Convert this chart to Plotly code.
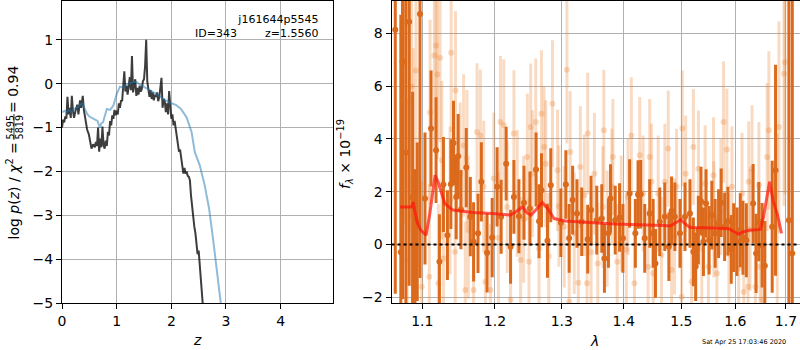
import plotly.graph_objects as go

# ---------------- Left panel: log p(z) ----------------
pz_z = [0.00, 0.02, 0.04, 0.06, 0.08, 0.10, 0.12, 0.14, 0.16, 0.18, 0.20, 0.22, 0.25, 0.28, 0.30,
        0.33, 0.35, 0.38, 0.40, 0.43, 0.46, 0.49, 0.51, 0.54, 0.57, 0.60, 0.62, 0.64, 0.66, 0.68,
        0.70, 0.72, 0.74, 0.76, 0.78, 0.80, 0.82, 0.84, 0.86, 0.88, 0.90, 0.92, 0.94, 0.96, 0.98,
        1.00, 1.02, 1.04, 1.06, 1.08, 1.10, 1.12, 1.14, 1.16, 1.18, 1.20, 1.22, 1.24, 1.26, 1.28,
        1.30, 1.32, 1.34, 1.36, 1.38, 1.40, 1.42, 1.44, 1.46, 1.48, 1.50, 1.52, 1.54, 1.56, 1.58,
        1.60, 1.62, 1.64, 1.66, 1.68, 1.70, 1.72, 1.74, 1.76, 1.78, 1.80, 1.82, 1.84, 1.86, 1.88,
        1.90, 1.92, 1.94, 1.96, 1.98, 2.00, 2.02, 2.04, 2.06, 2.08, 2.10, 2.12, 2.14, 2.16, 2.18,
        2.20, 2.22, 2.24, 2.26, 2.28, 2.30, 2.32, 2.34, 2.36, 2.38, 2.40, 2.42, 2.44, 2.46, 2.48,
        2.50, 2.52, 2.54, 2.56, 2.58]
pz_logp = [-1.00, -0.82, -0.88, -0.75, -0.80, -0.30, -0.70, -0.55, -0.78, -0.28, -0.62, -0.78, -0.60, -0.48, -0.70,
           -0.38, -0.55, -0.28, -0.60, -0.85, -1.05, -1.15, -1.30, -1.48, -1.38, -1.45, -1.33, -1.42, -1.00, -1.55,
           -1.25, -1.45, -0.98, -1.40, -1.48, -1.30, -1.42, -1.10, -1.18, -0.85, -0.95, -0.72, -0.80, -0.60, -0.72,
           -0.62, -0.70, -0.45, -0.55, -0.38, -0.40, -0.10, 0.28, -0.18, -0.05, -0.25, -0.10, 0.15, -0.15, 0.63,
           -0.20, -0.05, 0.10, -0.28, -0.10, -0.25, -0.05, -0.18, -0.12, 0.05, 0.10, 0.40, 1.00, 0.05, -0.10,
           -0.30, -0.15, -0.35, -0.20, -0.38, -0.25, -0.30, -0.20, -0.40, -0.30, 0.00, 0.13, -0.55, -0.35, -0.40,
           -0.65, -0.45, -0.70, -0.17, -0.55, -0.80, -0.70, -0.95, -0.85, -1.00, -1.20, -1.40, -1.55, -1.50, -1.65,
           -1.85, -2.05, -1.92, -2.05, -2.00, -2.10, -2.12, -2.20, -2.55, -2.85, -3.00, -3.25, -3.40, -3.70, -3.88,
           -3.80, -4.10, -4.60, -4.90, -5.10]

chi_z = [0.00, 0.05, 0.08, 0.12, 0.18, 0.22, 0.27, 0.32, 0.37, 0.42, 0.46, 0.50, 0.54, 0.60, 0.65,
         0.69, 0.72, 0.75, 0.79, 0.82, 0.88, 0.94, 1.00, 1.06, 1.12, 1.18, 1.27, 1.36, 1.42, 1.52,
         1.61, 1.73, 1.85, 1.97, 2.09, 2.18, 2.28, 2.37, 2.43, 2.52, 2.61, 2.69, 2.76, 2.82, 2.88, 2.91]
chi_logp = [-0.65, -0.62, -0.66, -0.60, -0.65, -0.58, -0.55, -0.50, -0.45, -0.58, -0.69, -0.75, -0.78, -0.81, -0.85,
            -1.00, -0.90, -0.88, -0.70, -0.58, -0.60, -0.50, -0.24, -0.07, -0.09, -0.02, 0.02, 0.04, -0.02, -0.09,
            -0.14, -0.24, -0.35, -0.43, -0.49, -0.58, -0.77, -1.10, -1.56, -1.86, -2.31, -2.84, -3.50, -4.12, -4.80, -5.05]

# ---------------- Right panel: spectrum ----------------
lam_tick_vals = [1.1, 1.2, 1.3, 1.4, 1.5, 1.6, 1.7]
lam_tick_text = ["1.1", "1.2", "1.3", "1.4", "1.5", "1.6", "1.7"]

# weaker-weight spectrum (faint)
faint_lam = [1.0760, 1.0773, 1.0917, 1.0860, 1.0829, 1.1183, 1.1160, 1.1237, 1.1201, 1.1387,
             1.1446, 1.1103, 1.1605, 1.1745, 1.1792, 1.2079, 1.2127, 1.2275, 1.2524, 1.2600,
             1.2687, 1.2726, 1.2855, 1.3079, 1.3131, 1.3291, 1.3409, 1.3670, 1.3819, 1.4128,
             1.4270, 1.4442, 1.4766, 1.5017, 1.5217, 1.5777, 1.5840, 1.6325, 1.6656, 1.6858,
             1.6961, 1.6981,
             1.0803, 1.0992, 1.1093, 1.1214, 1.1282, 1.1442, 1.1581, 1.1697, 1.1863, 1.1935,
             1.2226, 1.2374, 1.2499, 1.2650, 1.3115, 1.3259, 1.3398, 1.3572, 1.3891, 1.4180,
             1.4414, 1.4502, 1.4825, 1.5005, 1.5186, 1.5494, 1.5651, 1.6065, 1.6163, 1.6246,
             1.6390, 1.6523,
             1.0882, 1.1260, 1.1373, 1.1511, 1.1558, 1.1839, 1.1983, 1.2177, 1.2325, 1.2474,
             1.2549, 1.2752, 1.2933, 1.3037, 1.3195, 1.3355, 1.3517, 1.3654, 1.3802, 1.3958,
             1.4072, 1.4328, 1.4472, 1.4589, 1.4706, 1.4914, 1.5077, 1.5310, 1.5432, 1.5588,
             1.5726, 1.5936, 1.6129, 1.6260, 1.6458, 1.6622,
             1.1623, 1.2050, 1.2419, 1.2798, 1.2954, 1.3463, 1.3725, 1.4043, 1.4647, 1.4878,
             1.5371, 1.5594, 1.5878, 1.6286, 1.6483, 1.6824]
faint_flux = [6.78, 8.45, 6.59, 5.98, 5.45, 7.53, 7.16, 7.07, 6.44, 7.26,
              5.83, 5.01, 3.25, 4.26, 4.13, 4.64, 4.51, 4.20, 4.45, 4.64,
              4.95, 3.69, 5.33, 6.62, 3.50, 2.93, 4.20, 4.32, 3.31, 4.13,
              3.38, 3.31, 3.63, 4.39, 3.69, 4.64, 3.60, 2.87, 4.32, 4.45,
              6.46, 6.90,
              -0.59, -1.60, -1.22, -1.47, -0.53, -0.28, -1.73, -1.73, -1.41, -1.73,
              -2.10, -0.59, -0.66, -0.15, -2.17, -1.45, -1.47, -0.72, -0.66, -1.47,
              -0.85, -1.10, -0.97, -1.98, -1.41, -0.85, -1.10, -0.91, -1.79, -1.60,
              -1.60, -2.10,
              2.43, 3.19, 1.67, 2.68, 3.75, 2.18, 2.50, 1.42, 1.93, 3.31,
              2.68, 3.06, 2.81, 0.67, 0.42, 1.86, 2.68, 1.42, 2.18, 1.17,
              1.80, 1.93, 2.37, 1.93, 2.37, 2.18, 2.68, 2.87, 2.31, 2.62,
              1.80, 2.18, 1.93, 2.37, 2.24, 3.31,
              0.55, 0.25, 0.95, -0.45, 1.45, -0.30, 0.60, -0.20, -0.40, 0.30,
              -0.15, 0.95, -0.35, 0.55, -0.85, 0.70]
faint_err = [6.0, 7.0, 5.0, 5.0, 5.0, 3.5, 3.5, 3.2, 3.2, 3.0,
             3.0, 3.5, 2.6, 2.6, 2.5, 2.5, 2.5, 2.4, 2.4, 2.4,
             2.4, 2.3, 2.4, 2.8, 2.3, 2.3, 2.3, 2.3, 2.2, 2.2,
             2.2, 2.2, 2.2, 2.2, 2.2, 2.3, 2.3, 2.4, 3.0, 4.0,
             5.0, 5.0,
             6.0, 4.0, 3.5, 3.0, 3.0, 2.7, 2.6, 2.6, 2.5, 2.5,
             2.4, 2.4, 2.4, 2.4, 2.3, 2.3, 2.3, 2.3, 2.2, 2.2,
             2.2, 2.2, 2.2, 2.2, 2.2, 2.2, 2.2, 2.3, 2.3, 2.3,
             2.4, 2.5,
             5.0, 3.0, 2.8, 2.7, 2.7, 2.5, 2.5, 2.5, 2.4, 2.4,
             2.4, 2.4, 2.3, 2.3, 2.3, 2.3, 2.3, 2.3, 2.2, 2.2,
             2.2, 2.2, 2.2, 2.2, 2.2, 2.2, 2.2, 2.2, 2.2, 2.2,
             2.2, 2.3, 2.3, 2.3, 2.4, 2.8,
             2.6, 2.5, 2.4, 2.4, 2.3, 2.3, 2.2, 2.2, 2.2, 2.2,
             2.2, 2.2, 2.3, 2.3, 2.4, 3.5]

# main spectrum (strong)
spec_lam = [1.0650, 1.0721, 1.0743, 1.0786, 1.0829, 1.0873, 1.0904, 1.0934, 1.0970, 1.1036,
            1.1116, 1.1183, 1.1228, 1.1282, 1.1336, 1.1383, 1.1419, 1.1456, 1.1483, 1.1521,
            1.1595, 1.1651, 1.1697, 1.1759, 1.1806, 1.1887, 1.1960, 1.2031, 1.2089, 1.2162,
            1.2226, 1.2275, 1.2349, 1.2424, 1.2513, 1.2605, 1.2650, 1.2687, 1.2778, 1.2829,
            1.2985, 1.3063, 1.3115, 1.3169, 1.3238, 1.3313, 1.3409, 1.3463, 1.3555, 1.3637,
            1.3680, 1.3746, 1.3780, 1.3858, 1.3930, 1.3986, 1.4099, 1.4196, 1.4242, 1.4287,
            1.4356, 1.4442, 1.4502, 1.4542, 1.4617, 1.4705, 1.4777, 1.4825, 1.4884, 1.4975,
            1.5065, 1.5155, 1.5217, 1.5259, 1.5308, 1.5356, 1.5401, 1.5450, 1.5506, 1.5557,
            1.5619, 1.5683, 1.5732, 1.5797, 1.5860, 1.5923, 1.5969, 1.6032, 1.6096, 1.6148,
            1.6213, 1.6345, 1.6403, 1.6457, 1.6523, 1.6576, 1.6723, 1.6790, 1.7060, 1.7130]
spec_flux = [8.13, -0.30, 6.93, 3.48, 8.43, 1.78, -0.15, 0.86, 8.73, 1.74,
             4.39, 3.57, -0.66, 2.27, 0.35, 2.28, 3.84, 1.80, 3.34, 1.32,
             2.91, 1.05, 0.10, 0.42, 2.37, -0.32, 0.26, 2.18, 1.05, 3.06,
             -0.09, 1.80, 1.07, 1.58, 1.36, 2.84, 0.88, 2.05, 0.14, 2.24,
             0.82, 2.27, 0.23, 1.68, 1.17, 0.86, 0.20, 1.30, 0.92, 0.98,
             -0.53, 0.42, 1.74, 0.92, 1.02, 0.23, 1.93, 0.42, 1.89, 1.90,
             0.23, 1.17, 0.42, -0.72, 0.86, 1.05, -0.09, 1.27, 1.05, 0.42,
             1.05, 1.17, -0.28, -0.84, 0.54, 1.64, 0.10, 1.55, 0.16, 1.11,
             0.42, 0.79, 1.58, 0.67, 0.88, -0.19, 0.26, 0.10, 0.54, 0.25,
             0.16, 1.55, -0.34, 0.86, -0.03, -0.81, 0.67, 2.81, 0.92, -0.34]
spec_err = [10.0, 9.0, 9.0, 6.0, 10.0, 4.0, 3.0, 3.0, 10.0, 2.5,
            2.2, 2.0, 1.8, 1.8, 1.7, 1.7, 1.6, 1.6, 1.6, 1.5,
            1.5, 1.5, 1.5, 1.5, 1.5, 1.5, 1.5, 1.5, 1.4, 1.4,
            1.4, 1.4, 1.4, 1.4, 1.4, 1.4, 1.4, 1.4, 1.4, 1.4,
            1.3, 1.3, 1.3, 1.3, 1.3, 1.3, 1.3, 1.3, 1.3, 1.3,
            1.3, 1.3, 1.3, 1.3, 1.3, 1.3, 1.3, 1.3, 1.3, 1.3,
            1.3, 1.3, 1.3, 1.3, 1.3, 1.3, 1.3, 1.3, 1.3, 1.3,
            1.3, 1.3, 1.3, 1.3, 1.3, 1.3, 1.3, 1.3, 1.3, 1.3,
            1.3, 1.3, 1.3, 1.3, 1.3, 1.3, 1.3, 1.3, 1.4, 1.4,
            1.4, 1.5, 1.5, 1.5, 1.6, 1.7, 2.5, 4.0, 10.0, 10.0]

# best-fit template
model_lam = [1.071, 1.086, 1.088, 1.093, 1.098, 1.105, 1.110, 1.117, 1.121, 1.130,
             1.141, 1.168, 1.196, 1.222, 1.230, 1.240, 1.247, 1.253, 1.260, 1.270,
             1.278, 1.288, 1.305, 1.338, 1.385, 1.468, 1.480, 1.492, 1.499, 1.507,
             1.516, 1.558, 1.588, 1.598, 1.606, 1.616, 1.628, 1.649, 1.655, 1.667,
             1.674, 1.683, 1.691]
model_flux = [1.42, 1.42, 1.61, 0.85, 0.54, 0.35, 1.17, 2.62, 2.37, 1.55,
              1.30, 1.21, 1.17, 1.11, 1.23, 1.42, 1.20, 1.11, 1.30, 1.59,
              1.36, 0.98, 0.89, 0.83, 0.77, 0.72, 0.70, 0.85, 0.94, 0.77,
              0.64, 0.62, 0.59, 0.48, 0.38, 0.48, 0.54, 0.57, 1.04, 2.37,
              1.67, 1.11, 0.42]

FONT = "DejaVu Sans"
DARK = "rgb(219,106,28)"
FAINT = "rgba(232,124,44,0.28)"

fig = go.Figure()

fig.add_trace(go.Scatter(x=pz_z, y=pz_logp, mode="lines",
                         line=dict(color="rgba(0,0,0,0.76)", width=2),
                         xaxis="x", yaxis="y", showlegend=False))
fig.add_trace(go.Scatter(x=chi_z, y=chi_logp, mode="lines",
                         line=dict(color="rgba(31,119,180,0.5)", width=2),
                         xaxis="x", yaxis="y", showlegend=False))

fig.add_trace(go.Scatter(x=faint_lam, y=faint_flux, mode="markers",
                         marker=dict(color=FAINT, size=6),
                         error_y=dict(type="data", array=faint_err, visible=True,
                                      thickness=3, width=0, color=FAINT),
                         xaxis="x2", yaxis="y2", showlegend=False))
fig.add_trace(go.Scatter(x=spec_lam, y=spec_flux, mode="markers",
                         marker=dict(color=DARK, size=6),
                         error_y=dict(type="data", array=spec_err, visible=True,
                                      thickness=3, width=0, color=DARK),
                         xaxis="x2", yaxis="y2", showlegend=False))
fig.add_trace(go.Scatter(x=model_lam, y=model_flux, mode="lines",
                         line=dict(color="rgba(255,20,10,0.7)", width=3),
                         xaxis="x2", yaxis="y2", showlegend=False))

fig.add_shape(type="line", xref="x2 domain", yref="y2", x0=0, x1=1, y0=0, y1=0,
              line=dict(color="black", width=2, dash="dot"))

ax_common = dict(showline=True, mirror=True, linecolor="black", linewidth=1,
                 showgrid=True, gridcolor="#b0b0b0", gridwidth=1, zeroline=False,
                 ticks="outside", ticklen=5, tickwidth=1, tickcolor="black",
                 automargin=False,
                 tickfont=dict(family=FONT, size=14, color="black"))

fig.update_layout(
    width=800, height=350,
    margin=dict(l=0, r=0, t=0, b=0, autoexpand=False),
    paper_bgcolor="white", plot_bgcolor="white",
    font=dict(family=FONT, size=14, color="black"),
    xaxis=dict(domain=[62/800, 333.3/800], range=[0, 4.963], tickvals=[0, 1, 2, 3, 4],
               anchor="y", **ax_common),
    yaxis=dict(domain=[1-303.3/350, 1-1/350], range=[-5, 1.88], tickvals=[-5, -4, -3, -2, -1, 0, 1],
               anchor="x", **ax_common),
    xaxis2=dict(domain=[391.5/800, 799.5/800], type="log", range=[0.02539, 0.2375],
                tickvals=lam_tick_vals, ticktext=lam_tick_text, anchor="y2", **ax_common),
    yaxis2=dict(domain=[1-303.3/350, 1-1/350], range=[-2.23, 9.22], tickvals=[-2, 0, 2, 4, 6, 8],
                anchor="x2", **ax_common),
)


def note(xp, yp, text, size=14, angle=0, xanchor="center", yanchor="middle", align="center"):
    return dict(x=xp/800, y=1 - yp/350, xref="paper", yref="paper",
                xanchor=xanchor, yanchor=yanchor, align=align, showarrow=False,
                textangle=angle, borderpad=0,
                font=dict(family=FONT, size=size, color="black"), text=text)


NB = "\u00a0"
annots = [
    note(319, 26, "j161644p5545<br>ID=343" + NB * 8 + "z=1.5560", size=11,
         xanchor="right", align="right"),
    note(197, 340, "<i>z</i>"),
    note(594, 341, "<i>λ</i>"),
    note(744, 342, "Sat Apr 25 17:03:46 2020", size=6.5),
    note(345, 154, "<i>f</i><sub><i>λ</i></sub> × 10<sup>−19</sup>", angle=-90),
    # left y label: log p(z) / chi2 = 5495/5819 = 0.94
    note(13, 191.5, "log <i>p</i>(<i>z</i>) / <i>χ</i><sup>2</sup> =", angle=-90),
    note(9.5, 127, "5495", size=9.7, angle=-90),
    note(18.5, 127, "5819", size=9.7, angle=-90),
    note(13, 90, "=" + NB + "0.94", angle=-90),
]
fig.update_layout(annotations=annots)
fig.add_shape(type="line", xref="paper", yref="paper",
              x0=14/800, x1=14/800, y0=1-114/350, y1=1-140/350,
              line=dict(color="black", width=0.8))

fig.write_html("out.html", config={"displayModeBar": False},
               post_script="document.body.style.margin='0px';document.body.style.padding='0px';")
